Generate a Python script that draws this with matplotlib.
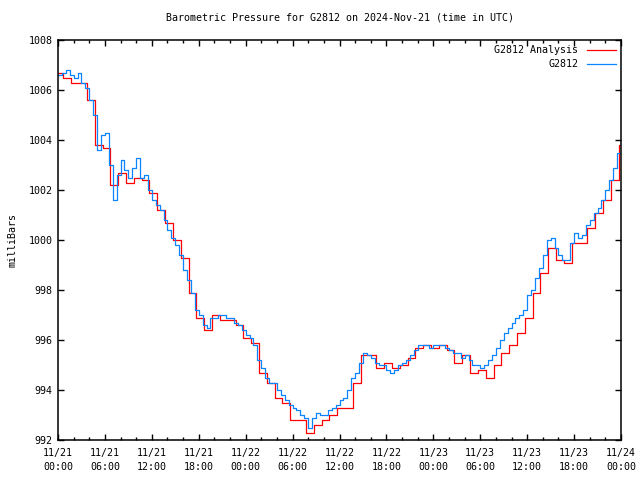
import numpy as np
import matplotlib
matplotlib.use("Agg")
import matplotlib.pyplot as plt
from matplotlib.ticker import MultipleLocator, FixedLocator

# Observed pressure (G2812), every 30 minutes from 11/21 00:00 UTC
blue_vals = [
    1006.6, 1006.7, 1006.8, 1006.6, 1006.5, 1006.7, 1006.3, 1006.1, 1005.6, 1005.0,
    1003.6, 1004.2, 1004.3, 1003.0, 1001.6, 1002.6, 1003.2, 1002.8, 1002.5, 1002.9,
    1003.3, 1002.5, 1002.6, 1002.0, 1001.6, 1001.4, 1001.2, 1000.8, 1000.4, 1000.1,
    999.8, 999.4, 998.8, 998.4, 997.9, 997.2, 997.0, 996.6, 996.5, 996.9,
    996.9, 997.0, 997.0, 996.9, 996.9, 996.7, 996.6, 996.4, 996.2, 996.1,
    995.8, 995.2, 994.9, 994.5, 994.3, 994.3, 994.0, 993.8, 993.6, 993.4,
    993.3, 993.2, 993.0, 992.9, 992.5, 992.9, 993.1, 993.0, 993.0, 993.2,
    993.3, 993.4, 993.6, 993.7, 994.0, 994.5, 994.7, 995.1, 995.5, 995.4,
    995.3, 995.1, 995.0, 995.0, 994.8, 994.7, 994.8, 995.0, 995.1, 995.2,
    995.4, 995.6, 995.8, 995.8, 995.8, 995.7, 995.8, 995.8, 995.8, 995.7,
    995.6, 995.5, 995.5, 995.3, 995.4, 995.2, 995.0, 995.0, 994.9, 995.0,
    995.2, 995.4, 995.7, 996.0, 996.3, 996.5, 996.7, 996.9, 997.0, 997.2,
    997.8, 998.0, 998.5, 998.9, 999.4, 1000.0, 1000.1, 999.7, 999.4, 999.2,
    999.2, 999.9, 1000.3, 1000.1, 1000.2, 1000.6, 1000.8, 1001.1, 1001.3, 1001.6,
    1002.0, 1002.4, 1002.9, 1003.5, 1004.2,
]
# Analysis values, hourly steps
red_vals = [
    1006.7, 1006.5, 1006.3, 1006.3, 1005.6, 1003.8, 1003.7, 1002.2, 1002.7, 1002.3,
    1002.5, 1002.4, 1001.9, 1001.2, 1000.7, 1000.0, 999.3, 997.9, 996.9, 996.4,
    997.0, 996.8, 996.8, 996.6, 996.1, 995.9, 994.7, 994.3, 993.7, 993.5,
    992.8, 992.8, 992.3, 992.6, 992.8, 993.0, 993.3, 993.3, 994.3, 995.4,
    995.4, 994.9, 995.1, 994.9, 995.0, 995.3, 995.7, 995.8, 995.7, 995.8,
    995.6, 995.1, 995.4, 994.7, 994.8, 994.5, 995.0, 995.5, 995.8, 996.3,
    996.9, 997.9, 998.7, 999.7, 999.2, 999.1, 999.9, 999.9, 1000.5, 1001.1,
    1001.6, 1002.4, 1003.8,
]
x_tick_labels = ["11/21\n00:00", "11/21\n06:00", "11/21\n12:00", "11/21\n18:00",
                 "11/22\n00:00", "11/22\n06:00", "11/22\n12:00", "11/22\n18:00",
                 "11/23\n00:00", "11/23\n06:00", "11/23\n12:00", "11/23\n18:00",
                 "11/24\n00:00"]

blue_t = np.arange(len(blue_vals)) * 0.5
red_t = np.concatenate([[0.0], np.arange(len(red_vals) - 1) + 0.7, [72.0]])
red_v = list(red_vals) + [red_vals[-1]]

FS = 7.2
plt.rcParams['font.family'] = ["DejaVu Sans Mono"]
plt.rcParams['font.size'] = FS

fig = plt.figure(figsize=(6.4, 4.8), dpi=100)
ax = fig.add_axes([58/640, 40/480, (621-58)/640, 400/480])

ax.plot(red_t, red_v, drawstyle='steps-post', color='#ff0000', lw=0.9,
        label='G2812 Analysis')
ax.plot(blue_t, blue_vals, drawstyle='steps-post', color='#0a84ff', lw=0.9,
        label='G2812')

ax.set_xlim(0, 72)
ax.set_ylim(992, 1008)
ax.xaxis.set_major_locator(FixedLocator(np.arange(0, 73, 6)))
ax.set_xticklabels(x_tick_labels, linespacing=1.4, fontsize=FS)
ax.xaxis.set_minor_locator(MultipleLocator(2))
ax.yaxis.set_major_locator(MultipleLocator(2))

ax.tick_params(which='both', direction='in', top=True, right=True, width=1,
               colors='black', labelsize=FS)
ax.tick_params(which='major', length=4)
ax.tick_params(which='minor', length=2.2)
ax.tick_params(axis='x', which='major', pad=6)
ax.tick_params(axis='y', which='major', pad=4)
for s in ax.spines.values():
    s.set_linewidth(1.1)

ax.set_ylabel('milliBars', labelpad=8, fontsize=FS)
ax.set_title('Barometric Pressure for G2812 on 2024-Nov-21 (time in UTC)',
             pad=14, fontsize=FS)

leg = ax.legend(loc='upper right', frameon=False, markerfirst=False, fontsize=FS,
                handlelength=2.9, handletextpad=0.8, borderaxespad=0.15,
                labelspacing=0.4)

fig.savefig('out.png', dpi=100)
